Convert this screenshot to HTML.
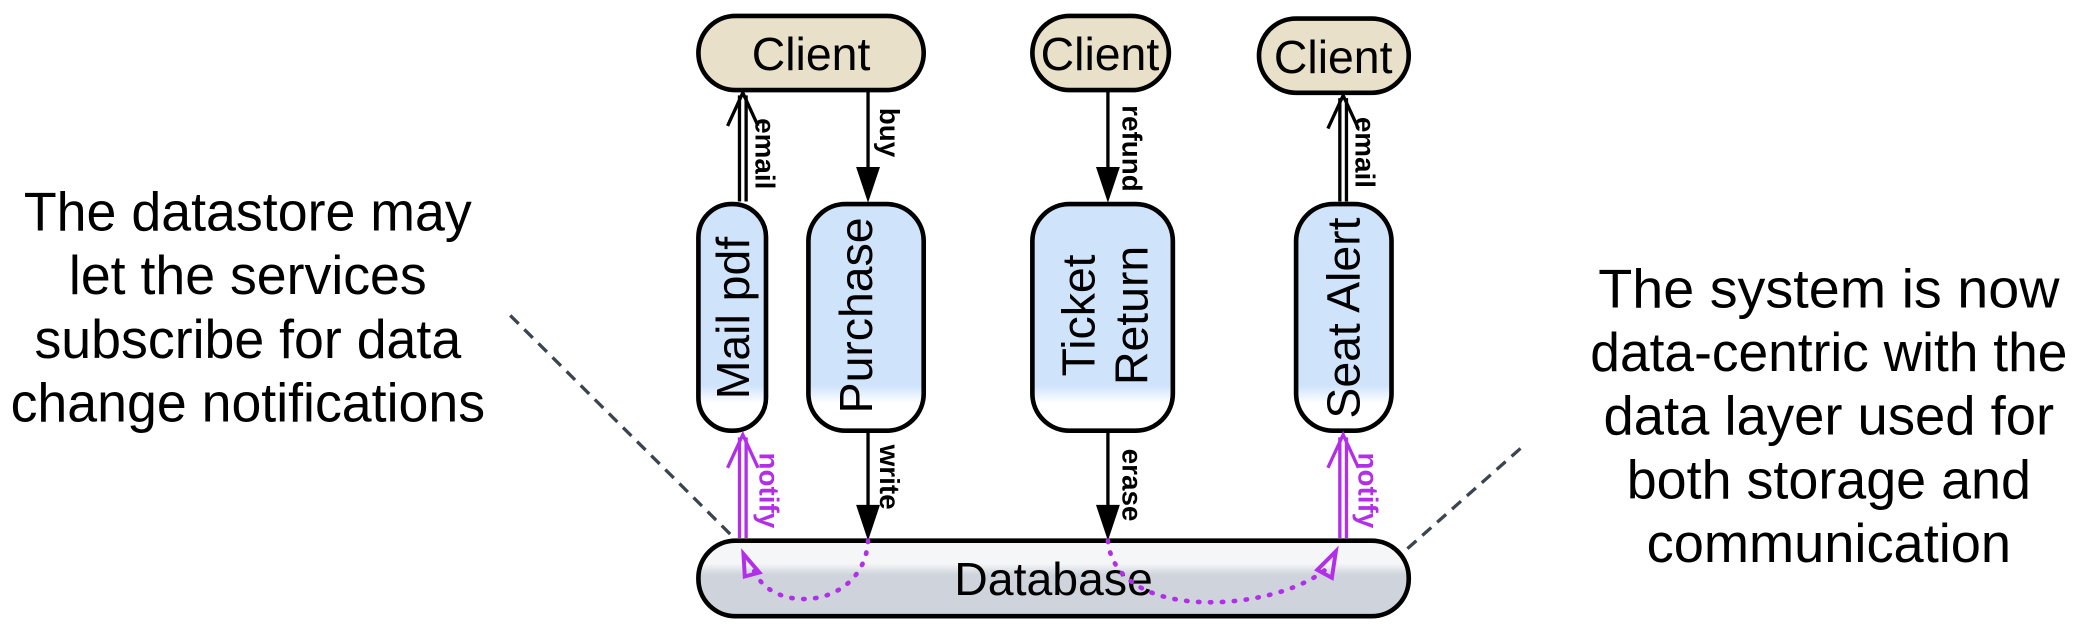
<!DOCTYPE html>
<html><head><meta charset="utf-8"><style>html,body{margin:0;padding:0;background:#fff}svg{display:block}</style></head>
<body>
<svg width="2078" height="634" viewBox="0 0 1568 478.4" preserveAspectRatio="none" xmlns="http://www.w3.org/2000/svg" font-family="Liberation Sans, sans-serif">
<defs>
<linearGradient id="blue" x1="0" y1="0" x2="0" y2="1"><stop offset="0" stop-color="#cfe3fb"/><stop offset="0.8" stop-color="#cfe3fb"/><stop offset="0.88" stop-color="#fff"/><stop offset="1" stop-color="#fff"/></linearGradient>
<linearGradient id="gray" x1="0" y1="0" x2="0" y2="1"><stop offset="0" stop-color="#f5f6f8"/><stop offset="0.3" stop-color="#f5f6f8"/><stop offset="0.45" stop-color="#cfd4dc"/><stop offset="1" stop-color="#cfd4dc"/></linearGradient>
</defs>
<line x1="385" y1="238" x2="553" y2="405" stroke="#3c4450" stroke-width="2.5" stroke-dasharray="9,6"/>
<line x1="1062" y1="414" x2="1150" y2="336" stroke="#3c4450" stroke-width="2.5" stroke-dasharray="9,6"/>
<g font-size="41" text-anchor="middle" fill="#000">
<text x="187" y="174" textLength="338" lengthAdjust="spacingAndGlyphs">The datastore may</text>
<text x="187" y="222" textLength="270" lengthAdjust="spacingAndGlyphs">let the services</text>
<text x="187" y="270" textLength="322" lengthAdjust="spacingAndGlyphs">subscribe for data</text>
<text x="187" y="318" textLength="358" lengthAdjust="spacingAndGlyphs">change notifications</text>
<text x="1380" y="232" textLength="348" lengthAdjust="spacingAndGlyphs">The system is now</text>
<text x="1380" y="280" textLength="360" lengthAdjust="spacingAndGlyphs">data-centric with the</text>
<text x="1380" y="328" textLength="340" lengthAdjust="spacingAndGlyphs">data layer used for</text>
<text x="1380" y="376" textLength="305" lengthAdjust="spacingAndGlyphs">both storage and</text>
<text x="1380" y="424" textLength="275" lengthAdjust="spacingAndGlyphs">communication</text>
</g>
<g stroke="#000" stroke-width="3.5" fill="#e8e0c8">
<rect x="527" y="12" width="170" height="56" rx="28"/>
<rect x="779" y="12" width="103" height="56" rx="28"/>
<rect x="950" y="14" width="113" height="56" rx="28"/>
</g>
<g font-size="35" text-anchor="middle">
<text x="612" y="53">Client</text>
<text x="830" y="53">Client</text>
<text x="1006" y="55">Client</text>
</g>
<g stroke="#000" stroke-width="3.5" fill="url(#blue)">
<rect x="527" y="154" width="51" height="171" rx="25"/>
<rect x="610" y="154" width="87" height="171" rx="28"/>
<rect x="779" y="154" width="106" height="171" rx="28"/>
<rect x="978" y="154" width="72" height="171" rx="28"/>
</g>
<g font-size="35" text-anchor="middle">
<text transform="translate(565,240) rotate(-90)">Mail pdf</text>
<text transform="translate(658,238) rotate(-90)">Purchase</text>
<text transform="translate(826,238) rotate(-90)">Ticket</text>
<text transform="translate(866,238) rotate(-90)">Return</text>
<text transform="translate(1026,240) rotate(-90)">Seat Alert</text>
</g>
<rect x="527" y="408" width="536" height="57" rx="28" fill="url(#gray)" stroke="#000" stroke-width="3.5"/>
<text x="795" y="449" font-size="35" text-anchor="middle">Database</text>
<g stroke="#000" stroke-width="2.5" fill="none">
<line x1="558" y1="152" x2="558" y2="72"/><line x1="563" y1="152" x2="563" y2="72"/>
<polyline points="549,95 560.5,70 572,95"/>
<line x1="1011" y1="152" x2="1011" y2="74"/><line x1="1016" y1="152" x2="1016" y2="74"/>
<polyline points="1002,97 1013.5,72 1025,97"/>
<line x1="655" y1="68" x2="655" y2="130"/>
<line x1="836" y1="68" x2="836" y2="130"/>
<line x1="655" y1="325" x2="655" y2="385"/>
<line x1="836" y1="325" x2="836" y2="385"/>
</g>
<g fill="#000">
<polygon points="646,126 664,126 655,153"/>
<polygon points="827,126 845,126 836,153"/>
<polygon points="646,381 664,381 655,408"/>
<polygon points="827,381 845,381 836,408"/>
</g>
<g stroke="#b22ee8" stroke-width="2.5" fill="none">
<line x1="558" y1="406" x2="558" y2="330"/><line x1="563" y1="406" x2="563" y2="330"/>
<polyline points="549,353 560.5,328 572,353"/>
<line x1="1011" y1="406" x2="1011" y2="330"/><line x1="1016" y1="406" x2="1016" y2="330"/>
<polyline points="1002,353 1013.5,328 1025,353"/>
<path d="M655,408 C652,460 580,465 568,428" stroke-width="3.5" stroke-dasharray="1,8" stroke-linecap="round"/>
<path d="M836,408 C842,470 960,462 1000,430" stroke-width="3.5" stroke-dasharray="1,8" stroke-linecap="round"/>
<polygon points="561,418 573,432 562,435" stroke-width="3"/>
<polygon points="1008,416 1005,436 994,430" stroke-width="3"/>
</g>
<g font-size="21" font-weight="bold" text-anchor="middle">
<text transform="translate(570,116) rotate(90)">email</text>
<text transform="translate(664,100) rotate(90)">buy</text>
<text transform="translate(847,112) rotate(90)">refund</text>
<text transform="translate(1023,115) rotate(90)">email</text>
<text transform="translate(664,360) rotate(90)">write</text>
<text transform="translate(847,366) rotate(90)">erase</text>
<text transform="translate(573,370) rotate(90)" fill="#b22ee8">notify</text>
<text transform="translate(1025,370) rotate(90)" fill="#b22ee8">notify</text>
</g>
</svg>
</body></html>
